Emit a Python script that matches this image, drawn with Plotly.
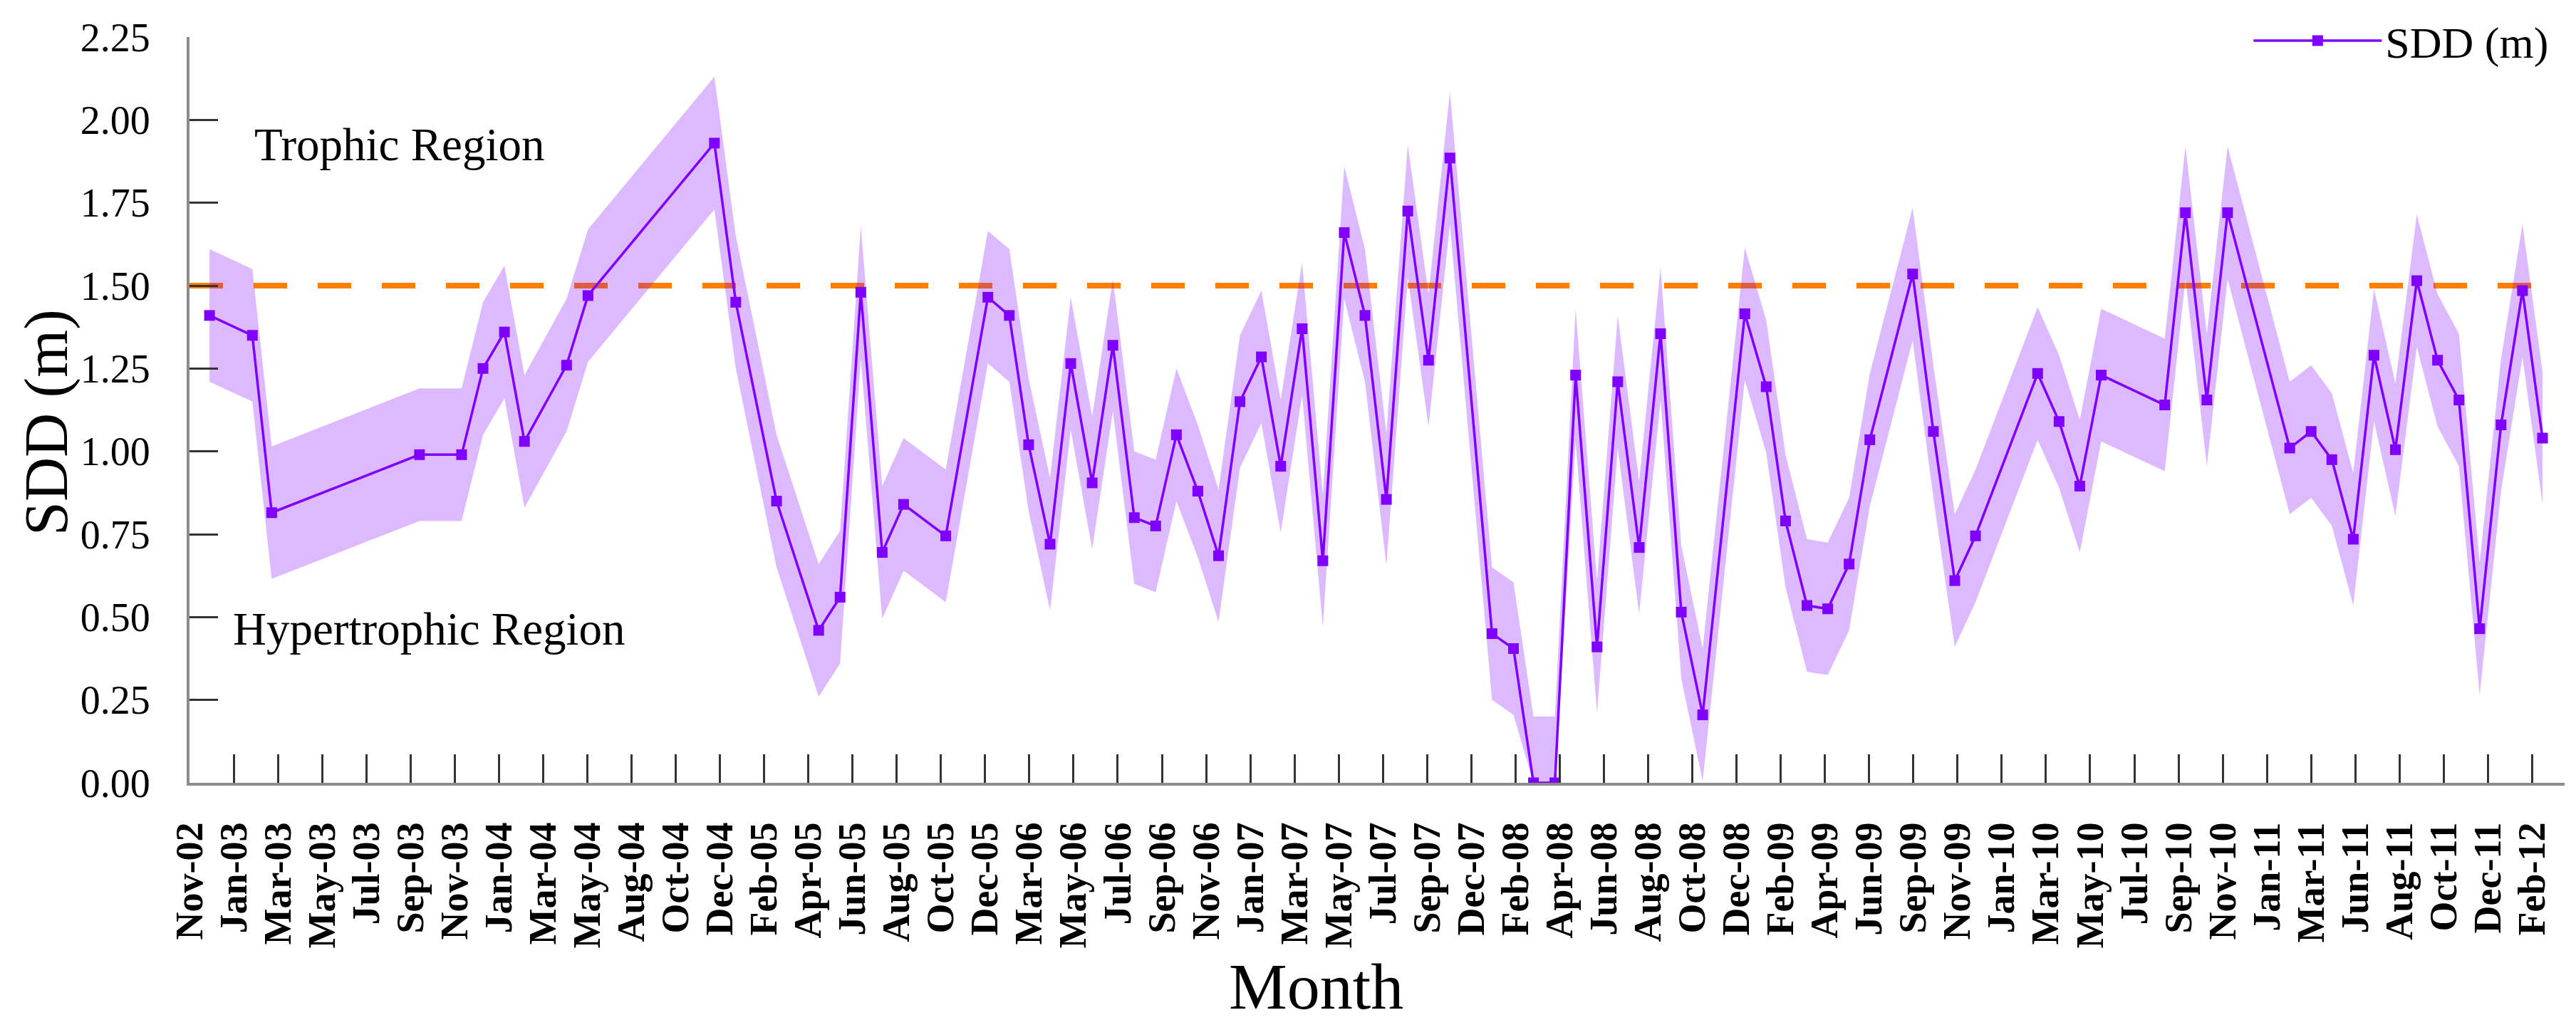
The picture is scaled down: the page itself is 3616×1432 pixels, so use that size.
import plotly.graph_objects as go

# ---------------- data ----------------
dates = [
    "2002-11-30", "2003-01-31", "2003-02-28", "2003-09-30", "2003-11-30", "2003-12-31",
    "2004-01-31", "2004-02-29", "2004-04-30", "2004-05-31", "2004-11-30", "2004-12-31",
    "2005-02-28", "2005-04-30", "2005-05-31", "2005-06-30", "2005-07-31", "2005-08-31",
    "2005-10-31", "2005-12-31", "2006-01-31", "2006-02-28", "2006-03-31", "2006-04-30",
    "2006-05-31", "2006-06-30", "2006-07-31", "2006-08-31", "2006-09-30", "2006-10-31",
    "2006-11-30", "2006-12-31", "2007-01-31", "2007-02-28", "2007-03-31", "2007-04-30",
    "2007-05-31", "2007-06-30", "2007-07-31", "2007-08-31", "2007-09-30", "2007-10-31",
    "2007-12-31", "2008-01-31", "2008-02-29", "2008-03-31", "2008-04-30", "2008-05-31",
    "2008-06-30", "2008-07-31", "2008-08-31", "2008-09-30", "2008-10-31", "2008-12-31",
    "2009-01-31", "2009-02-28", "2009-03-31", "2009-04-30", "2009-05-31", "2009-06-30",
    "2009-08-31", "2009-09-30", "2009-10-31", "2009-11-30", "2010-02-28", "2010-03-31",
    "2010-04-30", "2010-05-31", "2010-08-31", "2010-09-30", "2010-10-31", "2010-11-30",
    "2011-02-28", "2011-03-31", "2011-04-30", "2011-05-31", "2011-06-30", "2011-07-31",
    "2011-08-31", "2011-09-30", "2011-10-31", "2011-11-30", "2011-12-31", "2012-01-31",
    "2012-02-29",
]

sdd = [
    1.41, 1.35, 0.815, 0.99, 0.99, 1.25,
    1.36, 1.03, 1.26, 1.47, 1.93, 1.45,
    0.85, 0.46, 0.56, 1.48, 0.695, 0.84,
    0.745, 1.465, 1.41, 1.02, 0.72, 1.265,
    0.905, 1.32, 0.80, 0.775, 1.05, 0.88,
    0.685, 1.15, 1.285, 0.955, 1.37, 0.67,
    1.66, 1.41, 0.855, 1.725, 1.275, 1.885,
    0.45, 0.405, 0.0, 0.0, 1.23, 0.41,
    1.21, 0.71, 1.355, 0.515, 0.205, 1.415,
    1.195, 0.79, 0.535, 0.525, 0.66, 1.035,
    1.535, 1.06, 0.61, 0.745, 1.235, 1.09,
    0.895, 1.23, 1.14, 1.72, 1.155, 1.72,
    1.01, 1.06, 0.975, 0.735, 1.29, 1.005,
    1.515, 1.275, 1.155, 0.465, 1.08, 1.485,
    1.04,
]

sdd_upper = [
    1.61, 1.55, 1.015, 1.19, 1.19, 1.45,
    1.56, 1.23, 1.46, 1.67, 2.13, 1.65,
    1.05, 0.66, 0.76, 1.68, 0.895, 1.04,
    0.945, 1.665, 1.61, 1.22, 0.92, 1.465,
    1.105, 1.52, 1.00, 0.975, 1.25, 1.08,
    0.885, 1.35, 1.485, 1.155, 1.57, 0.87,
    1.86, 1.61, 1.055, 1.925, 1.475, 2.085,
    0.65, 0.605, 0.20, 0.20, 1.43, 0.61,
    1.41, 0.91, 1.555, 0.715, 0.405, 1.615,
    1.395, 0.99, 0.735, 0.725, 0.86, 1.235,
    1.735, 1.26, 0.81, 0.945, 1.435, 1.29,
    1.095, 1.43, 1.34, 1.92, 1.355, 1.92,
    1.21, 1.26, 1.175, 0.935, 1.49, 1.205,
    1.715, 1.475, 1.355, 0.665, 1.28, 1.685,
    1.24,
]

sdd_lower = [
    1.21, 1.15, 0.615, 0.79, 0.79, 1.05,
    1.16, 0.83, 1.06, 1.27, 1.73, 1.25,
    0.65, 0.26, 0.36, 1.28, 0.495, 0.64,
    0.545, 1.265, 1.21, 0.82, 0.52, 1.065,
    0.705, 1.12, 0.60, 0.575, 0.85, 0.68,
    0.485, 0.95, 1.085, 0.755, 1.17, 0.47,
    1.46, 1.21, 0.655, 1.525, 1.075, 1.685,
    0.25, 0.205, 0.0, 0.0, 1.03, 0.21,
    1.01, 0.51, 1.155, 0.315, 0.005, 1.215,
    0.995, 0.59, 0.335, 0.325, 0.46, 0.835,
    1.335, 0.86, 0.41, 0.545, 1.035, 0.89,
    0.695, 1.03, 0.94, 1.52, 0.955, 1.52,
    0.81, 0.86, 0.775, 0.535, 1.09, 0.805,
    1.315, 1.075, 0.955, 0.265, 0.88, 1.285,
    0.84,
]

threshold_dates = ["2002-11-01", "2012-02-29"]
threshold_values = [1.5, 1.5]

x_range = ["2002-11-01", "2012-04-01"]
tick_start = "2002-11-01"
tick_step_days = 64
y_ticks = [0.0, 0.25, 0.5, 0.75, 1.0, 1.25, 1.5, 1.75, 2.0, 2.25]

assert len(dates) == len(sdd) == len(sdd_upper) == len(sdd_lower)

# ---------------- styles ----------------
PURPLE = "#8000FF"
BAND = "rgba(128,0,255,0.27)"
ORANGE = "#FF8000"
SERIF = "Liberation Serif"

fig = go.Figure()

# threshold (dashed orange)
fig.add_trace(go.Scatter(
    x=threshold_dates, y=threshold_values, mode="lines",
    line=dict(color=ORANGE, width=8, dash="47px,43px"),
    showlegend=False, hoverinfo="skip",
))

# confidence band
fig.add_trace(go.Scatter(
    x=dates + dates[::-1], y=sdd_upper + sdd_lower[::-1],
    mode="lines", fill="toself", fillcolor=BAND,
    line=dict(width=0, color="rgba(0,0,0,0)"),
    showlegend=False, hoverinfo="skip",
))

# SDD series
fig.add_trace(go.Scatter(
    x=dates, y=sdd, mode="lines+markers", name="SDD (m)",
    line=dict(color=PURPLE, width=3.5),
    marker=dict(symbol="square", size=15, color=PURPLE),
))

fig.update_layout(
    width=3616, height=1432,
    margin=dict(l=258, r=24, t=44, b=341, pad=0, autoexpand=False),
    paper_bgcolor="white", plot_bgcolor="white",
    font=dict(family=SERIF, color="black"),
    showlegend=True,
    legend=dict(
        x=0.995, xanchor="right", y=1.04, yanchor="top",
        font=dict(family=SERIF, size=62, color="black"),
        bgcolor="rgba(0,0,0,0)", itemwidth=180,
    ),
    xaxis=dict(
        type="date", range=x_range,
        tick0=tick_start, dtick=tick_step_days * 86400000,
        tickformat="%b-%y", tickangle=-90,
        ticks="inside", ticklen=40, tickwidth=3, tickcolor="#333333",
        showline=True, linecolor="#8c8c8c", linewidth=4,
        showgrid=False, zeroline=False,
        tickfont=dict(family=SERIF, size=54, color="black", weight="bold"),
        ticklabelstandoff=30,
    ),
    yaxis=dict(
        range=[0, 2.25], tickmode="array", tickvals=y_ticks,
        ticktext=[f"{v:.2f}" for v in y_ticks],
        ticks="inside", ticklen=40, tickwidth=2.5, tickcolor="#333333",
        showline=True, linecolor="#8c8c8c", linewidth=4,
        showgrid=False, zeroline=False,
        tickfont=dict(family=SERIF, size=56, color="black"),
        ticklabelstandoff=40,
    ),
    annotations=[
        dict(text="Trophic Region", xref="paper", yref="y", x=0.0267, y=1.925,
             xanchor="left", yanchor="middle", showarrow=False,
             font=dict(family=SERIF, size=65, color="black")),
        dict(text="Hypertrophic Region", xref="paper", yref="y", x=0.0177, y=0.465,
             xanchor="left", yanchor="middle", showarrow=False,
             font=dict(family=SERIF, size=65, color="black")),
        dict(text="Month", xref="paper", yref="paper", x=0.4745, y=-0.2735,
             xanchor="center", yanchor="middle", showarrow=False,
             font=dict(family=SERIF, size=92, color="black")),
        dict(text="SDD (m)", xref="paper", yref="paper", x=-0.0603, y=0.4833,
             xanchor="center", yanchor="middle", showarrow=False, textangle=-90,
             font=dict(family=SERIF, size=86, color="black")),
    ],
)

fig.write_html("out.html")
